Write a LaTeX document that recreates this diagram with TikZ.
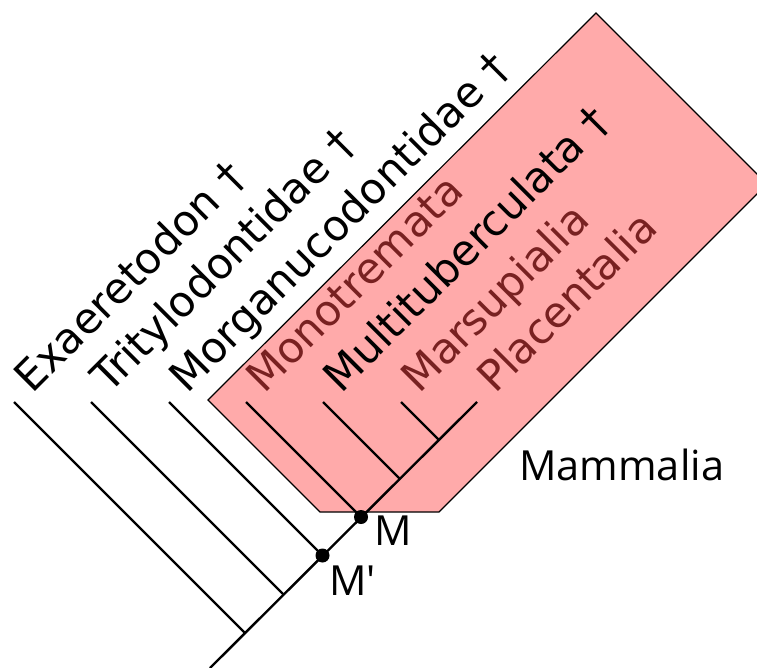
\documentclass[tikz,border=0pt]{standalone}
\usepackage{fontspec}
\setmainfont{DejaVu Sans}
\newfontfamily\labfont{Open Sans}
\definecolor{boxpink}{HTML}{FFAAAA}
\definecolor{darkred}{HTML}{782121}
\tikzset{
  branch/.style={line width=2.4pt, line cap=butt},
  taxon/.style={rotate=45, anchor=base west, inner sep=0pt, font=\fontsize{42.5}{50}\selectfont},
  extant/.style={taxon, text=darkred},
  extinct/.style={taxon, text=black},
  nodelab/.style={anchor=base west, inner sep=0pt, font=\labfont\fontsize{41.5}{50}\selectfont},
  dot/.style={circle, fill=black, inner sep=0pt, minimum size=14pt}
}
\begin{document}
\begin{tikzpicture}[x=1pt,y=-1pt]
\useasboundingbox (0,0) rectangle (757,668);
\clip (0,0) rectangle (757,668);
% clade box
\draw[fill=boxpink, line width=1.2pt, line join=miter] (596,13) -- (767,184) -- (439,512) -- (320,512) -- (208,400) -- cycle;
% tips
\coordinate (t1) at (14,402);
\coordinate (t2) at (91,402);
\coordinate (t3) at (169,402);
\coordinate (t4) at (246,402);
\coordinate (t5) at (323,402);
\coordinate (t6) at (401,402);
\coordinate (t7) at (477,402);
% junctions on trunk
\coordinate (root) at (210,668);
\coordinate (j1) at (245,633);
\coordinate (j2) at (283.5,594.5);
\coordinate (j3) at (322.5,555.5);
\coordinate (j4) at (361,517);
\coordinate (j5) at (399.5,478.5);
\coordinate (j6) at (438.5,439.5);
% branches
\draw[branch] (root) -- (t7);
\draw[branch] (t1) -- (j1);
\draw[branch] (t2) -- (j2);
\draw[branch] (t3) -- (j3);
\draw[branch] (t4) -- (j4);
\draw[branch] (t5) -- (j5);
\draw[branch] (t6) -- (j6);
% dots
\node[dot] (Mp) at (j3) {};
\node[dot] (M) at (j4) {};
% labels
\node[extinct] (l1) at ([shift={(18,-7)}]t1) {Exaeretodon †};
\node[extinct] (l2) at ([shift={(18,-7)}]t2) {Tritylodontidae †};
\node[extinct] (l3) at ([shift={(18,-7)}]t3) {Morganucodontidae †};
\node[extant] (l4) at ([shift={(18,-7)}]t4) {Monotremata};
\node[extinct] (l5) at ([shift={(18,-7)}]t5) {Multituberculata †};
\node[extant] (l6) at ([shift={(18,-7)}]t6) {Marsupialia};
\node[extant] (l7) at ([shift={(18,-7)}]t7) {Placentalia};
\node[nodelab] (lm) at (374,545) {M};
\node[nodelab] (lmp) at (329,595) {M'};
\node[nodelab] (mam) at (519,480) {Mammalia};
\end{tikzpicture}
\end{document}
